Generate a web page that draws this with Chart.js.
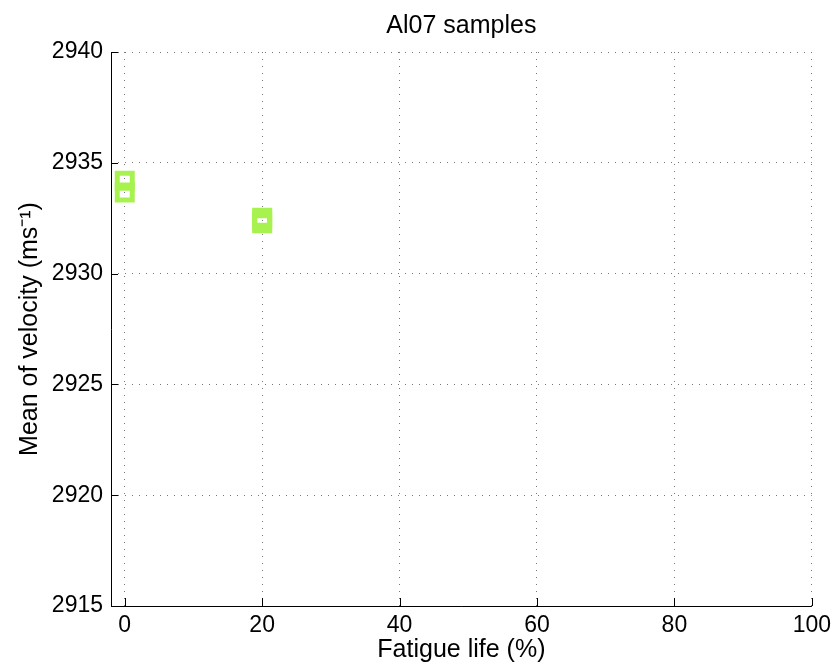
<!DOCTYPE html>
<html>
<head>
<meta charset="utf-8">
<title>Al07 samples</title>
<script src="https://cdn.jsdelivr.net/npm/chart.js@4"></script>
<style>
  html, body { margin: 0; padding: 0; background: #fff; }
  canvas { display: block; }
</style>
</head>
<body>
<canvas id="velocityChart" width="837" height="666"></canvas>
<script>
// --- Data ---
const fatigueLife = [0, 0, 20, 20, 20];                              // x (%)
const meanVelocity = [2934.19, 2933.66, 2932.52, 2932.40, 2932.27];  // y (m/s)
const xTicks = [0, 20, 40, 60, 80, 100];
const yTicks = [2915, 2920, 2925, 2930, 2935, 2940];

const points = fatigueLife.map(function(x, i) { return { x: x, y: meanVelocity[i] }; });

const fontFamily = '"Liberation Sans", Arial, Helvetica, sans-serif';

// MATLAB style: ticks drawn inside the axes, solid left/bottom axis lines
const insideTicks = {
    id: 'insideTicks',
    afterDraw: function(chart) {
        const ctx = chart.ctx;
        const area = chart.chartArea;
        const xs = chart.scales.x;
        const ys = chart.scales.y;
        ctx.save();
        ctx.strokeStyle = '#000';
        ctx.lineWidth = 1;
        ctx.beginPath();
        ctx.moveTo(area.left + 0.5, area.top);
        ctx.lineTo(area.left + 0.5, area.bottom + 0.5);
        ctx.lineTo(area.right, area.bottom + 0.5);
        xs.ticks.forEach(function(t) {
            const px = Math.round(xs.getPixelForValue(t.value)) + 0.5;
            ctx.moveTo(px, area.bottom);
            ctx.lineTo(px, area.bottom - 8);
        });
        ys.ticks.forEach(function(t) {
            const py = Math.round(ys.getPixelForValue(t.value)) + 0.5;
            ctx.moveTo(area.left, py);
            ctx.lineTo(area.left + 7, py);
        });
        ctx.stroke();
        ctx.restore();
    }
};

const ctx = document.getElementById('velocityChart').getContext('2d');
new Chart(ctx, {
    type: 'scatter',
    data: {
        datasets: [{
            label: 'Al07',
            data: points,
            pointStyle: 'rect',
            pointRadius: 10.6,
            pointHoverRadius: 10.6,
            borderWidth: 5,
            borderColor: 'rgb(168, 242, 80)',
            backgroundColor: 'rgba(0, 0, 0, 0)'
        }]
    },
    options: {
        responsive: false,
        animation: false,
        layout: { padding: { left: 0, right: 24, top: 0, bottom: 0 } },
        plugins: {
            legend: { display: false },
            tooltip: { enabled: false }
        },
        scales: {
            x: {
                type: 'linear',
                min: -2,
                max: 100,
                afterBuildTicks: function(scale) {
                    scale.ticks = xTicks.map(function(v) { return { value: v }; });
                },
                afterFit: function(scale) { scale.height = 60; },
                border: { display: false, dash: [1, 6] },
                grid: {
                    color: '#777',
                    lineWidth: 1,
                    drawTicks: false
                },
                ticks: {
                    color: '#000',
                    padding: 6,
                    font: { family: fontFamily, size: 23 },
                    callback: function(v) { return String(v); }
                },
                title: {
                    display: true,
                    text: 'Fatigue life (%)',
                    color: '#000',
                    font: { family: fontFamily, size: 25, lineHeight: 1.2 },
                    padding: { top: 0, bottom: 1 }
                }
            },
            // top axis only carries the plot title, centred over the axes box
            xTop: {
                type: 'linear',
                position: 'top',
                min: -2,
                max: 100,
                afterFit: function(scale) { scale.height = 52; },
                border: { display: false },
                grid: { display: false, drawTicks: false },
                ticks: { display: false },
                title: {
                    display: true,
                    text: 'Al07 samples',
                    color: '#000',
                    font: { family: fontFamily, size: 25, lineHeight: 1.2 },
                    padding: { top: 11, bottom: 0 }
                }
            },
            y: {
                type: 'linear',
                min: 2915,
                max: 2940,
                afterBuildTicks: function(scale) {
                    scale.ticks = yTicks.map(function(v) { return { value: v }; });
                },
                afterFit: function(scale) { scale.width = 111; },
                border: { display: false, dash: [1, 6] },
                grid: {
                    color: '#777',
                    lineWidth: 1,
                    drawTicks: false
                },
                ticks: {
                    color: '#000',
                    padding: 8,
                    font: { family: fontFamily, size: 23 },
                    callback: function(v) { return String(v); }
                },
                title: {
                    display: true,
                    text: 'Mean of velocity (ms⁻¹)',
                    color: '#000',
                    font: { family: fontFamily, size: 25, lineHeight: 1.2 },
                    padding: { top: 15, bottom: 0 }
                }
            }
        }
    },
    plugins: [insideTicks]
});
</script>
</body>
</html>
